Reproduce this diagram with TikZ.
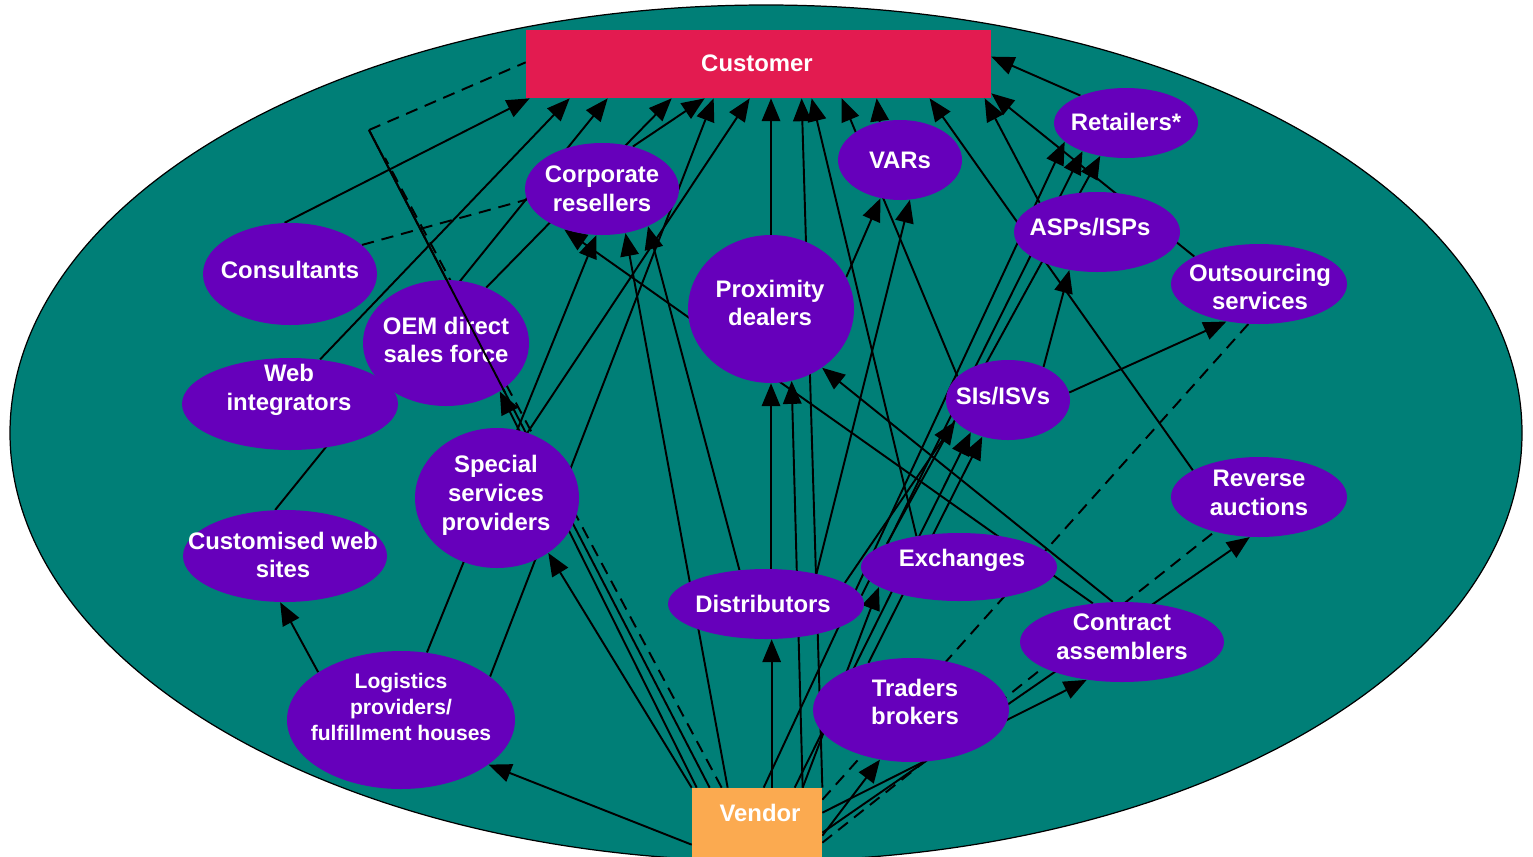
\documentclass[tikz,border=0pt]{standalone}
\usepackage{fontspec}
\setmainfont{Liberation Sans}
\usetikzlibrary{shapes.geometric,arrows.meta,calc}
\pgfdeclarelayer{bg}\pgfdeclarelayer{lines}\pgfdeclarelayer{top}\pgfsetlayers{bg,lines,main,top}
\definecolor{tealbg}{HTML}{007F77}
\definecolor{purp}{HTML}{6600BB}
\definecolor{custred}{HTML}{E31B50}
\definecolor{vendor}{HTML}{FBAA50}
\tikzset{
  ell/.style 2 args={ellipse, fill=purp, draw=none, minimum width=#1*0.02cm, minimum height=#2*0.02cm, inner sep=0pt},
  txt/.style={text=white, font=\fontsize{13.6pt}{16.4pt}\selectfont\bfseries, align=center, inner sep=0pt},
  smalltxt/.style={text=white, font=\fontsize{12pt}{14.8pt}\selectfont\bfseries, align=center, inner sep=0pt},
  ln/.style={line width=1.1pt},
  arr/.style={line width=1.1pt, -{Triangle[length=13pt,width=10.5pt]}},
  dsh/.style={line width=1.1pt, dash pattern=on 7pt off 4.5pt}
}
\begin{document}
\begin{tikzpicture}[x=0.02cm,y=-0.02cm]
\useasboundingbox (0,0) rectangle (1533,856);
\begin{pgfonlayer}{bg}
\draw[fill=tealbg, line width=0.7pt] (766,433) ellipse [x radius=756, y radius=428];
\end{pgfonlayer}
% boxes
\node[rectangle, fill=custred, minimum width=465*0.02cm, minimum height=68*0.02cm, inner sep=0pt] (cust) at (758.5,64) {};
\node[txt] (custT) at (757,63) {Customer};
\node[rectangle, fill=vendor, minimum width=130*0.02cm, minimum height=72*0.02cm, inner sep=0pt] (vend) at (757,824) {};
\node[txt] (vendT) at (760,813) {Vendor};
% ellipses
\node[ell={154}{92}] (corp) at (602,189) {};
\node[txt] (corpT) at (602,189) {Corporate\\resellers};
\node[ell={124}{80}] (vars) at (900,160) {};
\node[txt] (varsT) at (900,160) {VARs};
\node[ell={144}{70}] (ret) at (1126,123) {};
\node[txt] (retT) at (1126,122) {Retailers*};
\node[ell={166}{80}] (asp) at (1097,232) {};
\node[txt] (aspT) at (1090,227) {ASPs/ISPs};
\node[ell={176}{80}] (out) at (1259,284) {};
\node[txt] (outT) at (1260,287) {Outsourcing\\services};
\node[ell={174}{102}] (cons) at (290,274) {};
\node[txt] (consT) at (290,270) {Consultants};
\node[ell={166}{126}] (oem) at (446,343) {};
\node[txt] (oemT) at (446,340) {OEM direct\\sales force};
\node[ell={166}{148}] (prox) at (771,309) {};
\node[txt] (proxT) at (770,303) {Proximity\\dealers};
\node[ell={216}{92}] (web) at (290,404) {};
\node[txt] (webT) at (289,390) {Web\\integrators};
\node[ell={124}{80}] (sis) at (1008,400) {};
\node[txt] (sisT) at (1003,396) {SIs/ISVs};
\node[ell={164}{140}] (ssp) at (497,498) {};
\node[txt] (sspT) at (496,495) {Special\\services\\providers};
\node[ell={176}{80}] (ra) at (1259,497) {};
\node[txt] (raT) at (1259,493) {Reverse\\auctions};
\node[ell={204}{92}] (cws) at (285,556) {};
\node[txt] (cwsT) at (283,555) {Customised web\\sites};
\node[ell={196}{68}] (exch) at (959,567) {};
\node[txt] (exchT) at (962,560) {Exchanges};
\node[ell={196}{70}] (dist) at (766,604) {};
\node[txt] (distT) at (763,604) {Distributors};
\node[ell={204}{80}] (ca) at (1122,642) {};
\node[txt] (caT) at (1122,637) {Contract\\assemblers};
\node[ell={196}{104}] (tb) at (911,710) {};
\node[txt] (tbT) at (915,702) {Traders\\brokers};
\node[ell={228}{138}] (log) at (401,720) {};
\node[smalltxt] (logT) at (401,707) {Logistics\\providers/\\fulfillment houses};
\coordinate (corner) at (369,130);
\coordinate (dashend) at (385,158);
\coordinate (v18) at ($(vend.north west)+(18,0)$);
\begin{pgfonlayer}{top}
\draw[ln] (corner) -- ($(corner)!0.4!(v18)$);
\end{pgfonlayer}
\begin{pgfonlayer}{lines}
% to customer
\draw[arr] (cons.96) -- ($(cust.south west)+(4,0)$);
\draw[arr] (web.56) -- ($(cust.south west)+(44,0)$);
\draw[arr] (cws.102) -- ($(cust.south west)+(82,0)$);
\draw[arr] (oem.54) -- ($(cust.south west)+(146,0)$);
\draw[arr] (corp.54) -- ($(cust.south west)+(179,0)$);
\draw[arr] (log.26) -- ($(cust.south west)+(188,0)$);
\draw[arr] (ssp.65) -- ($(cust.south west)+(224,0)$);
\draw[arr] (prox.north) -- (prox.north |- cust.south);
\draw[arr] (vend.north east) -- ($(cust.south west)+(276,0)$);
\draw[arr] (exch.144) -- ($(cust.south west)+(286,0)$);
\draw[arr] (sis.155) -- ($(cust.south west)+(316,0)$);
\draw[arr] (vars.118) -- ($(cust.south west)+(351,0)$);
\draw[arr] (ra.158) -- ($(cust.south west)+(404,0)$);
\draw[arr] (asp.153) -- ($(cust.south west)+(459,0)$);
\draw[arr] (out.157) -- ($(cust.south east)+(0,-5)$);
\draw[arr] (ret.149) -- ($(cust.north east)+(0,27)$);
% left side
\draw[arr] (log.69) -- (corp.263);
\draw[arr] (log.150) -- (cws.264);
\draw[dsh] (cons.22) -- (corp.188);
\draw[ln] (v18) -- (corner);
\draw[dsh] (corner) -- ($(cust.south west)+(0,-36)$);
\draw[dsh] ($(vend.north west)+(30,0)$) -- (dashend);
\draw[arr] ($(vend.north west)+(0,57)$) -- (log.333);
\draw[arr] (vend.north west) -- (ssp.313);
\draw[arr] ($(vend.north west)+(5,0)$) -- (oem.318);
\draw[arr] ($(vend.north west)+(36,0)$) -- (corp.298);
\draw[arr] (dist.128) -- (corp.321);
\draw[arr] (ca.127) -- (corp.227);
% centre
\draw[arr] (prox.south |- dist.north) -- (prox.south);
\draw[arr] ($(vend.north west)+(80,0)$) coordinate (v80) -- (v80 |- dist.south);
\draw[arr] ($(vend.north west)+(111,0)$) -- (prox.286);
\draw[arr] (ca.103) -- (prox.311);
\draw[arr] (prox.23) -- (vars.243);
\draw[arr] (dist.31) -- (vars.284);
% right side
\draw[arr] ($(vend.north west)+(72,0)$) -- (ret.197);
\draw[arr] (dist.5) -- (ret.213);
\draw[arr] (exch.162) -- (ret.232);
\draw[arr] (sis.43) -- (asp.234);
\draw[arr] (sis.7) -- (out.229);
\draw[dsh] ($(vend.north east)+(0,12)$) -- (out.255);
\draw[dsh] ($(vend.north east)+(0,55)$) -- (ra.218);
\draw[arr] ($(vend.north east)+(0,45)$) -- (ra.257);
\draw[arr] ($(vend.north east)+(0,25)$) -- (ca.227);
\draw[arr] ($(vend.north east)+(0,48)$) -- (tb.238);
\draw[arr] ($(vend.north west)+(111,0)$) -- (exch.194);
\draw[arr] (dist.15) -- (sis.202);
\draw[arr] ($(vend.north west)+(103,0)$) -- (sis.221);
\draw[arr] (tb.132) -- (sis.235);
\end{pgfonlayer}
\end{tikzpicture}
\end{document}
